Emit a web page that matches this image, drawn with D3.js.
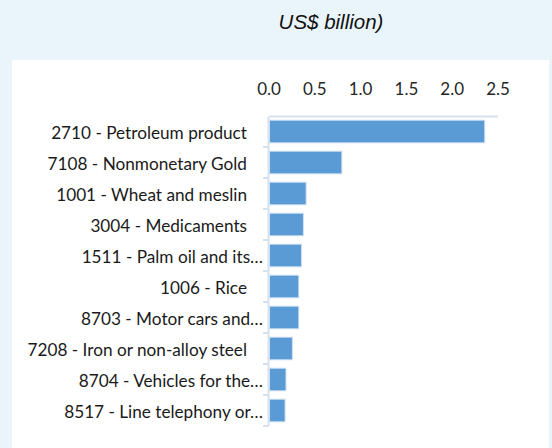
<!DOCTYPE html>
<html>
<head>
<meta charset="utf-8">
<script src="https://cdn.jsdelivr.net/npm/d3@7"></script>
<style>
  body { margin: 0; background: #eaf5fb; }
  svg { display: block; }
</style>
</head>
<body>
<svg id="chart" width="552" height="448"></svg>
<script>
// top 10 imports, US$ billion
var products = [
    "2710 - Petroleum product",
    "7108 - Nonmonetary Gold",
    "1001 - Wheat and meslin",
    "3004 - Medicaments",
    "1511 - Palm oil and its…",
    "1006 - Rice",
    "8703 - Motor cars and…",
    "7208 - Iron or non-alloy steel",
    "8704 - Vehicles for the…",
    "8517 - Line telephony or…"
];
var values = [2.35, 0.79, 0.40, 0.37, 0.35, 0.32, 0.32, 0.25, 0.18, 0.17];
var xTicks = [0, 0.5, 1.0, 1.5, 2.0, 2.5];

var svg = d3.select("#chart");
var font = "Lato, 'Open Sans', sans-serif";

// white plot panel
svg.append("rect")
    .attr("x", 12).attr("y", 60)
    .attr("width", 537).attr("height", 388)
    .attr("fill", "#ffffff");

// tail of the title
svg.append("text")
    .attr("x", 331).attr("y", 29)
    .attr("text-anchor", "middle")
    .style("font-family", "'Liberation Sans', Arial, sans-serif")
    .style("font-style", "italic")
    .style("font-size", "20.5px")
    .attr("fill", "#111")
    .text("US$ billion)");

var x = d3.scaleLinear().domain([0, 2.5]).range([268.5, 497.5]);
var y = d3.scaleBand().domain(products).range([116, 426])
    .paddingInner(0.27).paddingOuter(0.135);

var axisColor = "#d5e1ef";

// top axis with labels
var xAxis = svg.append("g")
    .attr("transform", "translate(0,116)")
    .call(d3.axisTop(x).tickValues(xTicks).tickFormat(d3.format(".1f"))
        .tickSize(0).tickPadding(21));
xAxis.select(".domain").attr("stroke", axisColor).attr("stroke-width", 2);
xAxis.selectAll("text")
    .style("font-family", font).style("font-size", "17px")
    .attr("fill", "#262626");

// left axis: line plus ticks between categories
var yAxis = svg.append("g")
    .attr("transform", "translate(268,0)")
    .call(d3.axisLeft(y).tickSize(0).tickPadding(5));
yAxis.select(".domain").attr("stroke", axisColor).attr("stroke-width", 2);
yAxis.selectAll("text")
    .style("font-family", font).style("font-size", "17.2px")
    .attr("fill", "#1a1a1a")
    .attr("dy", "0.42em")
    .attr("x", function (d) { return d.slice(-1) === "…" ? -5 : -21; });

var bounds = d3.range(products.length + 1).map(function (i) {
    return 116 + i * y.step();
});
svg.append("g").selectAll("line")
    .data(bounds.slice(1))
    .join("line")
    .attr("x1", 263).attr("x2", 268)
    .attr("y1", function (d) { return d; })
    .attr("y2", function (d) { return d; })
    .attr("stroke", axisColor).attr("stroke-width", 2);

// bars
svg.append("g").selectAll("rect")
    .data(values)
    .join("rect")
    .attr("x", x(0) + 1)
    .attr("y", function (d, i) { return y(products[i]); })
    .attr("width", function (d) { return x(d) - x(0); })
    .attr("height", y.bandwidth())
    .attr("fill", "#5b9bd5")
    .attr("stroke", "#cfe0f2")
    .attr("stroke-width", 1);
</script>
</body>
</html>
